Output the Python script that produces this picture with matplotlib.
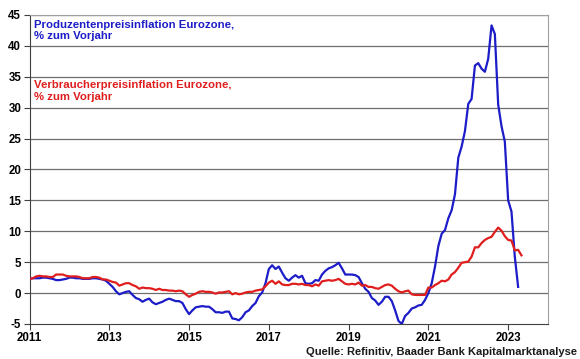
import numpy as np
import matplotlib
matplotlib.use("Agg")
import matplotlib.pyplot as plt

# monthly yoy rates, Jan 2011 onwards
ppi = [
    2.3, 2.4, 2.4, 2.4, 2.5, 2.5, 2.4, 2.3, 2.1, 2.1, 2.2, 2.3,          # 2011
    2.5, 2.5, 2.4, 2.4, 2.3, 2.3, 2.3, 2.4, 2.4, 2.3, 2.2, 2.0,          # 2012
    1.5, 1.0, 0.3, -0.2, 0.0, 0.2, 0.3, -0.3, -0.8, -1.0, -1.4, -1.1,    # 2013
    -0.9, -1.5, -1.8, -1.6, -1.4, -1.1, -0.9, -1.1, -1.3, -1.3, -1.6, -2.6,  # 2014
    -3.4, -2.8, -2.3, -2.2, -2.1, -2.2, -2.2, -2.6, -3.1, -3.1, -3.2, -3.0,  # 2015
    -3.0, -4.1, -4.2, -4.4, -3.9, -3.1, -2.8, -2.1, -1.6, -0.5, 0.1, 1.6,    # 2016
    3.9, 4.5, 3.9, 4.3, 3.3, 2.4, 2.0, 2.5, 2.9, 2.5, 2.8, 1.6,          # 2017
    1.5, 1.6, 2.1, 2.0, 3.0, 3.6, 4.0, 4.2, 4.5, 4.9, 4.0, 3.0,          # 2018
    3.0, 3.0, 2.9, 2.6, 1.6, 0.7, 0.2, -0.8, -1.2, -1.9, -1.4, -0.6,     # 2019
    -0.6, -1.3, -2.8, -4.5, -5.0, -3.7, -3.2, -2.5, -2.3, -2.0, -1.9, -1.1,  # 2020
    0.0, 1.6, 4.3, 7.6, 9.6, 10.2, 12.1, 13.4, 16.0, 21.9, 23.7, 26.2,   # 2021
    30.6, 31.4, 36.8, 37.2, 36.3, 35.8, 37.9, 43.3, 41.9, 30.5, 27.0, 24.5,  # 2022
    15.0, 13.2, 5.9, 1.0,                                                # 2023
]

cpi = [
    2.3, 2.4, 2.7, 2.8, 2.7, 2.7, 2.6, 2.6, 3.0, 3.0, 3.0, 2.8,          # 2011
    2.7, 2.7, 2.7, 2.6, 2.4, 2.4, 2.4, 2.6, 2.6, 2.5, 2.2, 2.2,          # 2012
    2.0, 1.8, 1.7, 1.2, 1.4, 1.6, 1.6, 1.3, 1.1, 0.7, 0.9, 0.8,          # 2013
    0.8, 0.7, 0.5, 0.7, 0.5, 0.5, 0.4, 0.4, 0.3, 0.4, 0.3, -0.2,         # 2014
    -0.6, -0.3, -0.1, 0.2, 0.3, 0.2, 0.2, 0.1, -0.1, 0.1, 0.1, 0.2,      # 2015
    0.3, -0.2, 0.0, -0.2, -0.1, 0.1, 0.2, 0.2, 0.4, 0.5, 0.6, 1.1,       # 2016
    1.7, 2.0, 1.5, 1.9, 1.4, 1.3, 1.3, 1.5, 1.5, 1.4, 1.5, 1.3,          # 2017
    1.3, 1.1, 1.4, 1.2, 1.9, 2.0, 2.1, 2.0, 2.1, 2.3, 1.9, 1.5,          # 2018
    1.4, 1.5, 1.4, 1.7, 1.2, 1.3, 1.0, 1.0, 0.8, 0.7, 1.0, 1.3,          # 2019
    1.4, 1.2, 0.7, 0.3, 0.1, 0.3, 0.4, -0.2, -0.3, -0.3, -0.3, -0.3,     # 2020
    0.9, 0.9, 1.3, 1.6, 2.0, 1.9, 2.2, 3.0, 3.4, 4.1, 4.9, 5.0,          # 2021
    5.1, 5.9, 7.4, 7.4, 8.1, 8.6, 8.9, 9.1, 9.9, 10.6, 10.1, 9.2,        # 2022
    8.6, 8.5, 6.9, 7.0, 6.1,                                             # 2023
]

year_ticks = [2011, 2013, 2015, 2017, 2019, 2021, 2023]
y_ticks = list(range(-5, 50, 5))

blue = '#1c1cc8'
red = '#e01e1e'
plt.rcParams['font.family'] = ['Liberation Sans', 'DejaVu Sans']
plt.rcParams['font.weight'] = 'bold'

fig = plt.figure(figsize=(5.8, 3.59), dpi=100)
ax = fig.add_axes([0.0509, 0.0975, 0.894, 0.861])

x_ppi = 2011 + np.arange(len(ppi)) / 12
x_cpi = 2011 + np.arange(len(cpi)) / 12
ax.plot(x_ppi, ppi, color=blue, lw=1.6, zorder=3)
ax.plot(x_cpi, cpi, color=red, lw=1.6, zorder=3)

ax.set_xlim(2011, 2024)
ax.set_ylim(-5, 45)
ax.set_xticks(year_ticks)
ax.set_xticklabels([str(y) for y in year_ticks])
ax.set_yticks(y_ticks)
ax.set_yticklabels([str(v) for v in y_ticks])
ax.tick_params(axis='both', labelsize=8.3, length=4, width=0.8, color='#404040', pad=2)

for v in y_ticks[1:]:
    ax.axhline(v, color='#6e6e6e', lw=0.9, zorder=1)

ax.spines['left'].set_color('#404040')
ax.spines['bottom'].set_color('#404040')
ax.spines['right'].set_color('#a0a0a0')
ax.spines['top'].set_color('#a0a0a0')

ax.text(0.008, 0.985, 'Produzentenpreisinflation Eurozone,\n% zum Vorjahr', transform=ax.transAxes,
        color=blue, fontsize=8.2, fontweight='bold', va='top', ha='left', linespacing=1.22)
ax.text(0.008, 0.79, 'Verbraucherpreisinflation Eurozone,\n% zum Vorjahr', transform=ax.transAxes,
        color=red, fontsize=8.2, fontweight='bold', va='top', ha='left', linespacing=1.22)

fig.text(0.994, 0.02, 'Quelle: Refinitiv, Baader Bank Kapitalmarktanalyse', ha='right', va='center',
         fontsize=8.0, fontweight='bold', color='#1a1a1a')

fig.savefig('out.png', dpi=100)
